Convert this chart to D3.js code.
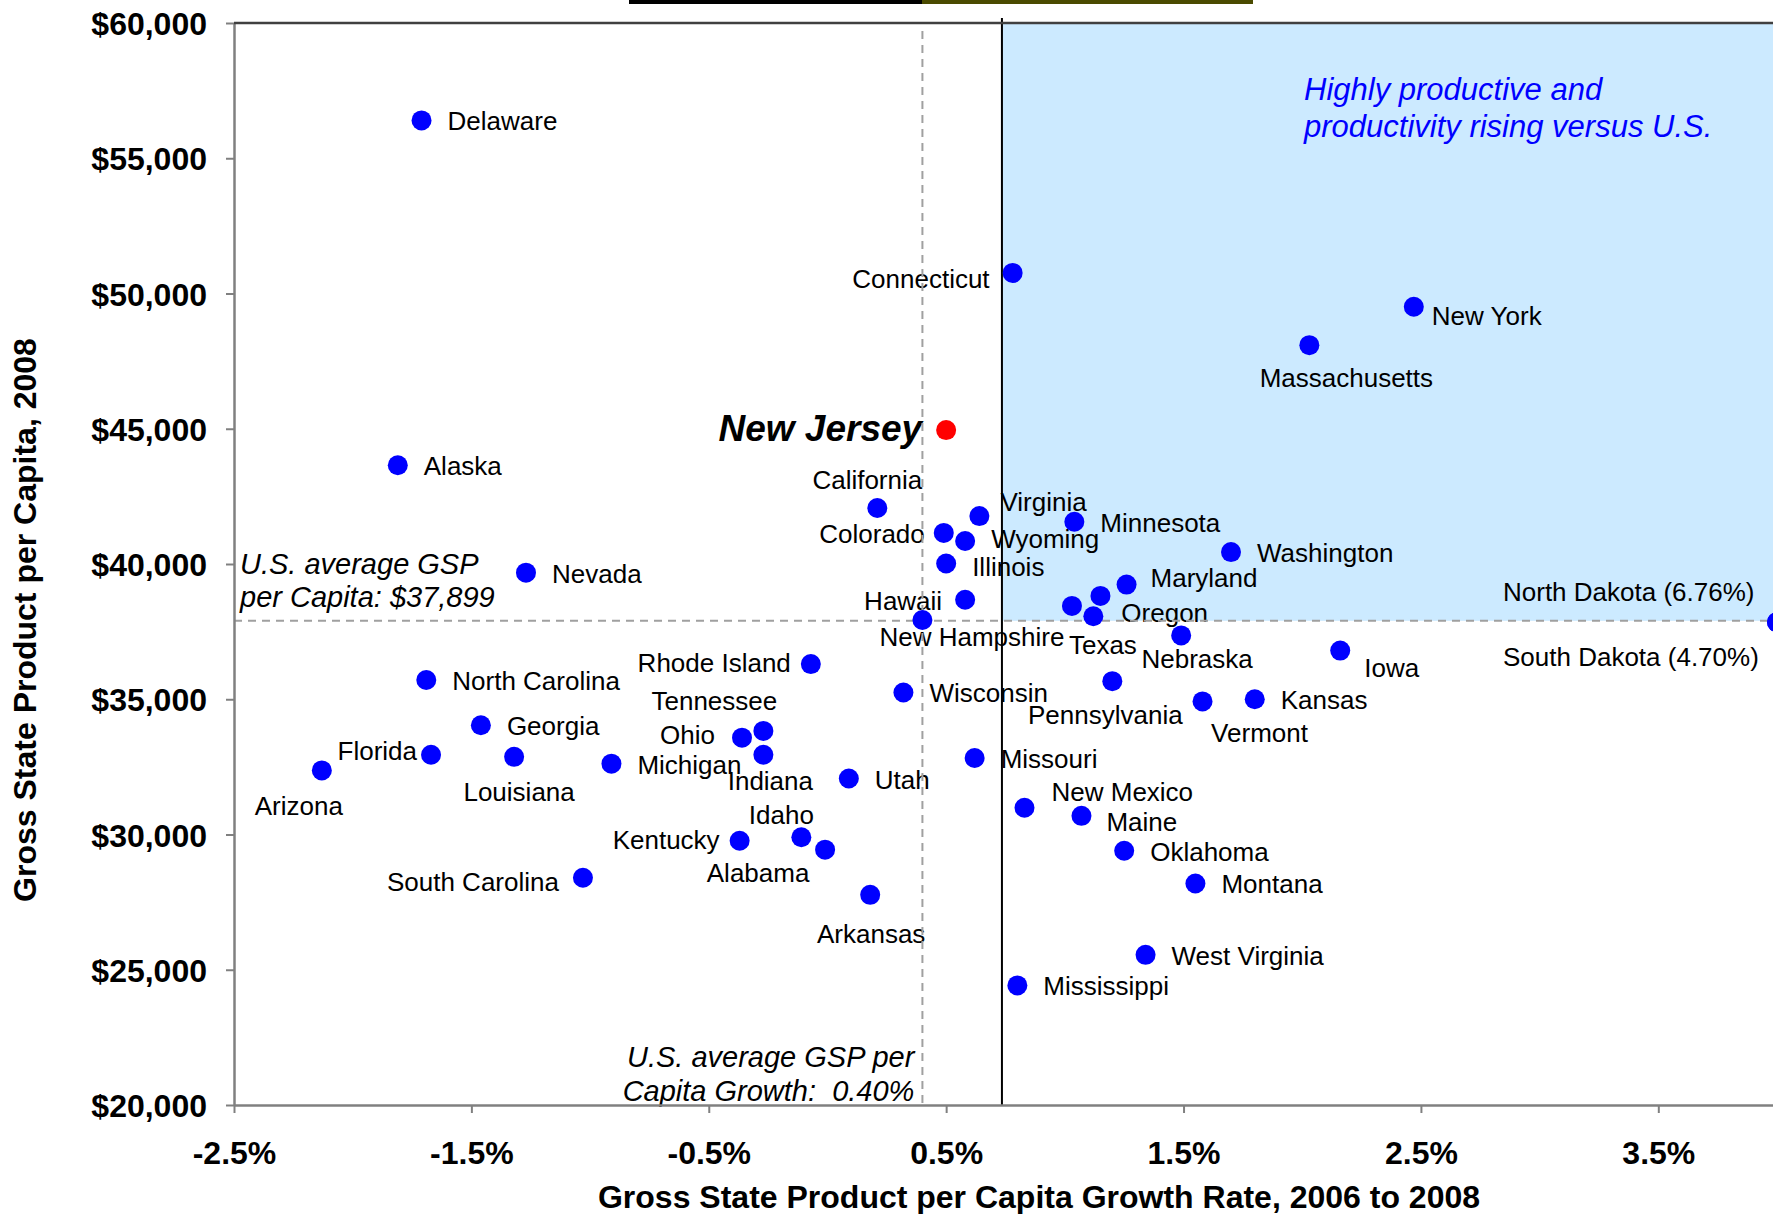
<!DOCTYPE html>
<head>
    <meta charset="utf-8">
    <title>GSP per Capita vs. GSP per Capita Growth</title>
    <style>
        body { margin: 0; background: #fff; }
        svg text { font-family: "Liberation Sans", Arial, sans-serif; }
    </style>
</head>
<body>

<svg width="1773" height="1214"></svg>

<script src="https://d3js.org/d3.v7.min.js"></script>

<script>

    // Gross State Product per capita growth 2006-2008 (%) and GSP per capita 2008 ($)
    var states = ["Delaware", "Alaska", "Nevada", "North Carolina", "Georgia", "Florida", "Louisiana",
        "Arizona", "Michigan", "South Carolina", "Rhode Island", "Ohio", "Tennessee", "Indiana",
        "Kentucky", "Idaho", "Alabama", "Arkansas", "Utah", "California", "Colorado", "Wyoming",
        "Virginia", "Illinois", "Hawaii", "New Hampshire", "New Jersey", "Connecticut", "New York",
        "Massachusetts", "Minnesota", "Washington", "Maryland", "Texas", "", "Oregon", "Nebraska",
        "Iowa", "Kansas", "Vermont", "Pennsylvania", "Wisconsin", "Missouri", "New Mexico", "Maine",
        "Oklahoma", "Montana", "West Virginia", "Mississippi"];

    var growth = [-1.71, -1.81, -1.27, -1.69, -1.46, -1.67, -1.32,
        -2.13, -0.91, -1.03, -0.07, -0.36, -0.27, -0.27,
        -0.37, -0.11, -0.01, 0.18, 0.09, 0.21, 0.49, 0.58,
        0.64, 0.50, 0.58, 0.40, 0.50, 0.78, 2.47,
        2.03, 1.04, 1.70, 1.26, 1.03, 1.15, 1.12, 1.49,
        2.16, 1.80, 1.58, 1.20, 0.32, 0.62, 0.83, 1.07,
        1.25, 1.55, 1.34, 0.80];

    var gsp = [56400, 43650, 39680, 35710, 34040, 32950, 32870,
        32370, 32620, 28400, 36300, 33580, 33830, 32950,
        29770, 29900, 29440, 27770, 32070, 42070, 41150, 40850,
        41770, 40020, 38680, 37930, 44950, 50760, 49510,
        48090, 41560, 40440, 39240, 38450, 38820, 38070, 37360,
        36800, 35000, 34920, 35670, 35250, 32830, 30990, 30690,
        29400, 28190, 25550, 24420];

    // states whose growth is beyond the right edge of the axis
    var offStates = ["North Dakota", "South Dakota"];
    var offGrowth = [6.76, 4.70];
    var offGsp = [37850, 37850];

    var highlight = "New Jersey";
    var usAvgGrowth = 0.40;
    var usAvgGsp = 37899;
    var quadrantGrowth = 0.735;

    var xTicks = [-2.5, -1.5, -0.5, 0.5, 1.5, 2.5, 3.5];
    var yTicks = [20000, 25000, 30000, 35000, 40000, 45000, 50000, 55000, 60000];

    // label placement: [anchor, dx, dy] relative to the dot
    var labelPos = {
        "Florida": ["end", -14, 5],
        "Louisiana": ["middle", 5, 44],
        "Arizona": ["middle", -23, 45],
        "South Carolina": ["end", -24, 13],
        "Rhode Island": ["end", -20, 8],
        "Tennessee": ["middle", -49, -21],
        "Ohio": ["end", -27, 6],
        "Indiana": ["middle", 7, 35],
        "Kentucky": ["end", -20, 8],
        "Idaho": ["middle", -20, -13],
        "Alabama": ["middle", -67, 32],
        "Arkansas": ["middle", 1, 48],
        "California": ["middle", -10, -19],
        "Colorado": ["end", -19, 10],
        "Wyoming": ["start", 26, 7],
        "Virginia": ["start", 21, -5],
        "Illinois": ["start", 26, 13],
        "Hawaii": ["end", -23, 10],
        "New Hampshire": ["start", -43, 26],
        "New Jersey": ["end", -24, 11],
        "Connecticut": ["end", -23, 15],
        "New York": ["start", 18, 18],
        "Massachusetts": ["middle", 37, 42],
        "Maryland": ["start", 24, 2],
        "Oregon": ["start", 28, 6],
        "Texas": ["start", -3, 48],
        "Nebraska": ["middle", 16, 33],
        "Iowa": ["start", 24, 26],
        "Vermont": ["middle", 57, 41],
        "Pennsylvania": ["middle", -7, 43],
        "New Mexico": ["start", 27, -7],
        "Maine": ["start", 25, 15],
        "North Dakota": ["start", -274, -21],
        "South Dakota": ["start", -274, 44]
    };
    var defaultPos = ["start", 26, 10];

    var svg = d3.select("svg"),
        width = +svg.attr("width"),
        height = +svg.attr("height");

    var x = d3.scaleLinear().domain([-2.5, 4.0]).range([234, 1777]);
    var y = d3.scaleLinear().domain([20000, 60000]).range([1105, 23]);

    var points = states.map(function(s, i) {
        return { name: s, label: s, gx: growth[i], gy: gsp[i] };
    });
    offStates.forEach(function(s, i) {
        points.push({ name: s, label: s + " (" + offGrowth[i].toFixed(2) + "%)",
            gx: Math.min(offGrowth[i], x.domain()[1]), gy: offGsp[i] });
    });

    // top decoration strip
    svg.append("rect").attr("x", 629).attr("y", 0).attr("width", 293).attr("height", 4).attr("fill", "#000");
    svg.append("rect").attr("x", 922).attr("y", 0).attr("width", 331).attr("height", 4).attr("fill", "#4a4a00");

    // highly productive quadrant
    svg.append("rect")
        .attr("x", x(quadrantGrowth))
        .attr("y", y(60000))
        .attr("width", x(4.0) - x(quadrantGrowth))
        .attr("height", y(usAvgGsp) - y(60000))
        .attr("fill", "#cceaff");

    svg.append("text")
        .attr("x", 1304).attr("y", 100)
        .attr("font-size", 31).attr("font-style", "italic").attr("fill", "#0000ff")
        .text("Highly productive and");
    svg.append("text")
        .attr("x", 1304).attr("y", 137)
        .attr("font-size", 31).attr("font-style", "italic").attr("fill", "#0000ff")
        .text("productivity rising versus U.S.");

    // state labels
    svg.append("g").selectAll("text")
        .data(points.filter(function(d) { return d.label !== ""; }))
        .enter().append("text")
            .attr("x", function(d) { return x(d.gx) + (labelPos[d.name] || defaultPos)[1]; })
            .attr("y", function(d) { return y(d.gy) + (labelPos[d.name] || defaultPos)[2]; })
            .attr("text-anchor", function(d) { return (labelPos[d.name] || defaultPos)[0]; })
            .attr("font-size", function(d) { return d.name === highlight ? 37 : 26; })
            .attr("font-weight", function(d) { return d.name === highlight ? "bold" : "normal"; })
            .attr("font-style", function(d) { return d.name === highlight ? "italic" : "normal"; })
            .attr("fill", "#000")
            .text(function(d) { return d.label; });

    // U.S. average annotations
    svg.append("text").attr("x", 240).attr("y", y(usAvgGsp) - 47)
        .attr("font-size", 29).attr("font-style", "italic").text("U.S. average GSP");
    svg.append("text").attr("x", 240).attr("y", y(usAvgGsp) - 14)
        .attr("font-size", 29).attr("font-style", "italic").text("per Capita: $37,899");
    svg.append("text").attr("x", x(usAvgGrowth) - 8).attr("y", y(20000) - 38)
        .attr("text-anchor", "end").attr("font-size", 29).attr("font-style", "italic")
        .text("U.S. average GSP per");
    svg.append("text").attr("x", x(usAvgGrowth) - 8).attr("y", y(20000) - 4)
        .attr("text-anchor", "end").attr("font-size", 29).attr("font-style", "italic")
        .style("white-space", "pre")
        .text("Capita Growth:  0.40%");

    // average lines
    svg.append("line")
        .attr("x1", x(-2.5)).attr("x2", width)
        .attr("y1", y(usAvgGsp)).attr("y2", y(usAvgGsp))
        .attr("stroke", "#a0a0a0").attr("stroke-width", 2).attr("stroke-dasharray", "8,6");
    svg.append("line")
        .attr("x1", x(usAvgGrowth)).attr("x2", x(usAvgGrowth))
        .attr("y1", y(60000) + 8).attr("y2", y(20000))
        .attr("stroke", "#a0a0a0").attr("stroke-width", 2).attr("stroke-dasharray", "8,6");

    svg.append("line")
        .attr("x1", x(quadrantGrowth)).attr("x2", x(quadrantGrowth))
        .attr("y1", y(60000) - 5).attr("y2", y(20000))
        .attr("stroke", "#000").attr("stroke-width", 2);

    // axes
    var yAxis = svg.append("g")
        .attr("transform", "translate(" + x(-2.5) + ",0)")
        .call(d3.axisLeft(y).tickValues(yTicks).tickFormat(d3.format("$,"))
            .tickSize(8).tickPadding(19).tickSizeOuter(0));

    var xAxis = svg.append("g")
        .attr("transform", "translate(0," + y(20000) + ")")
        .call(d3.axisBottom(x).tickValues(xTicks).tickFormat(function(d) { return d.toFixed(1) + "%"; })
            .tickSize(8).tickPadding(28).tickSizeOuter(0));

    [yAxis, xAxis].forEach(function(a) {
        a.select(".domain").attr("stroke", "#808080").attr("stroke-width", 2.5);
        a.selectAll(".tick line").attr("stroke", "#808080").attr("stroke-width", 2);
        a.selectAll(".tick text")
            .attr("font-size", 32).attr("font-weight", "bold").attr("fill", "#000")
            .attr("font-family", "Liberation Sans, Arial, sans-serif");
    });
    yAxis.selectAll(".tick text").attr("dy", "0.36em");

    svg.append("line")
        .attr("x1", x(-2.5)).attr("x2", width)
        .attr("y1", y(60000)).attr("y2", y(60000))
        .attr("stroke", "#404040").attr("stroke-width", 2.5);

    // axis titles
    svg.append("text")
        .attr("transform", "translate(36," + 620 + ") rotate(-90)")
        .attr("text-anchor", "middle")
        .attr("font-size", 32).attr("font-weight", "bold")
        .text("Gross State Product per Capita, 2008");

    svg.append("text")
        .attr("x", 1039).attr("y", 1208)
        .attr("text-anchor", "middle")
        .attr("font-size", 32).attr("font-weight", "bold")
        .text("Gross State Product per Capita Growth Rate, 2006 to 2008");

    // dots
    svg.append("g").selectAll("circle")
        .data(points)
        .enter().append("circle")
            .attr("cx", function(d) { return x(d.gx); })
            .attr("cy", function(d) { return y(d.gy); })
            .attr("r", 10)
            .attr("fill", function(d) { return d.name === highlight ? "#ff0000" : "#0000ff"; });

</script>
</body>
